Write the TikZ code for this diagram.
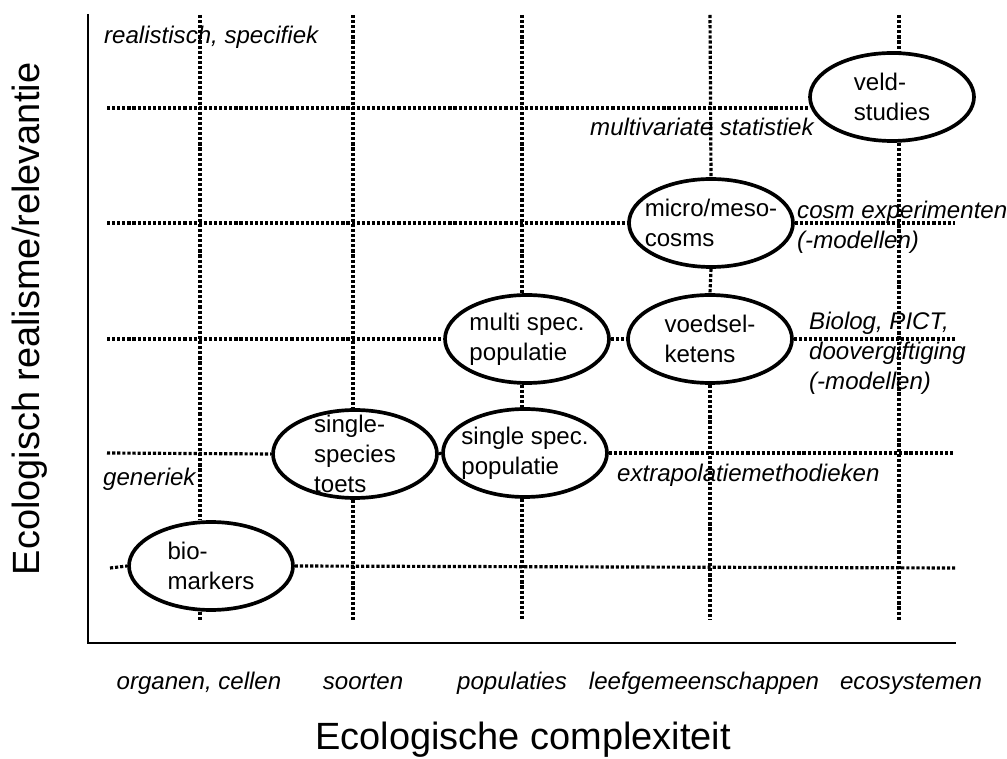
\documentclass[tikz,border=0pt]{standalone}
\usepackage{fontspec}
\setmainfont{Liberation Sans}
\usetikzlibrary{shapes.geometric}

\newcommand\ecosize{\fontsize{13.7pt}{17pt}\selectfont}
\newcommand\titlesize{\fontsize{21.6pt}{26pt}\selectfont}

\tikzset{
  gridline/.style={line width=1.8pt, dash pattern=on 1.8pt off 1.1pt},
  axisline/.style={line width=1.5pt},
  eco/.style={draw, ellipse, line width=2.1pt, inner sep=0pt,
    minimum width=3.28cm, minimum height=1.76cm},
  ecotext/.style={align=left, font=\ecosize},
  note/.style={anchor=west, align=left, font=\ecosize\itshape},
  level/.style={anchor=base, font=\ecosize\itshape},
}

\begin{document}
\begin{tikzpicture}[x=0.02cm, y=-0.02cm]
    \useasboundingbox (0,0) rectangle (1007,759);
    % Axes
    \draw[axisline] (88,14) -- (88,643) -- (956,643);
    % Free ends of the grid
    \coordinate (L1) at (107,108);
    \coordinate (L2) at (107,223);
    \coordinate (L3) at (107,339);
    \coordinate (L4) at (107,453);
    \coordinate (L5) at (110,568);
    \coordinate (R2) at (955,223);
    \coordinate (R3) at (955,339);
    \coordinate (R4) at (955,453);
    \coordinate (R5) at (955,568);
    \coordinate (T1) at (200,15);
    \coordinate (T2) at (353,15);
    \coordinate (T3) at (522,15);
    \coordinate (T4) at (710,15);
    \coordinate (T5) at (899,15);
    \coordinate (B1) at (200,620);
    \coordinate (B2) at (353,620);
    \coordinate (B3) at (522,620);
    \coordinate (B4) at (710,620);
    \coordinate (B5) at (899,620);
    % Test systems
    \node[eco, label={[ecotext]center:veld-\\studies}] (veld) at (892,97) {};
    \node[eco, label={[ecotext]center:micro/meso-\\cosms}] (micro) at (711,223) {};
    \node[eco, label={[ecotext]center:voedsel-\\ketens}] (voedsel) at (710,339) {};
    \node[eco, label={[ecotext]center:multi spec.\\populatie}] (multi) at (527,339) {};
    \node[eco, label={[ecotext]center:single spec.\\populatie}] (single) at (525,453) {};
    \node[eco, label={[ecotext]center:single-\\species\\toets}] (toets) at (355,454) {};
    \node[eco, label={[ecotext]center:bio-\\markers}] (bio) at (211,566) {};
    % Dotted grid, rows
    \draw[gridline] (L1) -- (L1 -| veld.west);
    \draw[gridline] (L2) -- (micro.west);
    \draw[gridline] (micro.east) -- (R2);
    \draw[gridline] (L3) -- (multi.west);
    \draw[gridline] (multi.east) -- (voedsel.west);
    \draw[gridline] (voedsel.east) -- (R3);
    \draw[gridline] (L4) -- (toets.west);
    \draw[gridline] (toets.east) -- (single.west);
    \draw[gridline] (single.east) -- (R4);
    \draw[gridline] (L5) -- (bio.west);
    \draw[gridline] (bio.east) -- (R5);
    % Dotted grid, columns
    \draw[gridline] (T1) -- (T1 |- bio.north);
    \draw[gridline] (T1 |- bio.south) -- (B1);
    \draw[gridline] (T2) -- (T2 |- toets.north);
    \draw[gridline] (T2 |- toets.south) -- (B2);
    \draw[gridline] (T3) -- (T3 |- multi.north);
    \draw[gridline] (T3 |- multi.south) -- (T3 |- single.north);
    \draw[gridline] (T3 |- single.south) -- (B3);
    \draw[gridline] (T4) -- (micro.north);
    \draw[gridline] (micro.south) -- (voedsel.north);
    \draw[gridline] (voedsel.south) -- (B4);
    \draw[gridline] (T5) -- (T5 |- veld.north);
    \draw[gridline] (T5 |- veld.south) -- (B5);
    % Methods
    \node[note] (spec) at (98,37) {realistisch, specifiek};
    \node[note] (gen) at (97,479) {generiek};
    \node[note] (multistat) at (584,127) {multivariate statistiek};
    \node[note] (cosm) at (791,227) {cosm experimenten\\(-modellen)};
    \node[note] (biolog) at (803,353) {Biolog, PICT,\\doovergiftiging\\(-modellen)};
    \node[note] (extra) at (611,475) {extrapolatiemethodieken};
    % Levels of organisation
    \node[level] (organen) at (199,689) {organen, cellen};
    \node[level] (soorten) at (363,689) {soorten};
    \node[level] (populaties) at (512,689) {populaties};
    \node[level] (leef) at (704,689) {leefgemeenschappen};
    \node[level] (eco) at (911,689) {ecosystemen};
    % Axis titles
    \node[font=\titlesize] (xtitle) at (523,740) {Ecologische complexiteit};
    \node[font=\titlesize, rotate=90] (ytitle) at (30,319) {Ecologisch realisme/relevantie};
\end{tikzpicture}
\end{document}
